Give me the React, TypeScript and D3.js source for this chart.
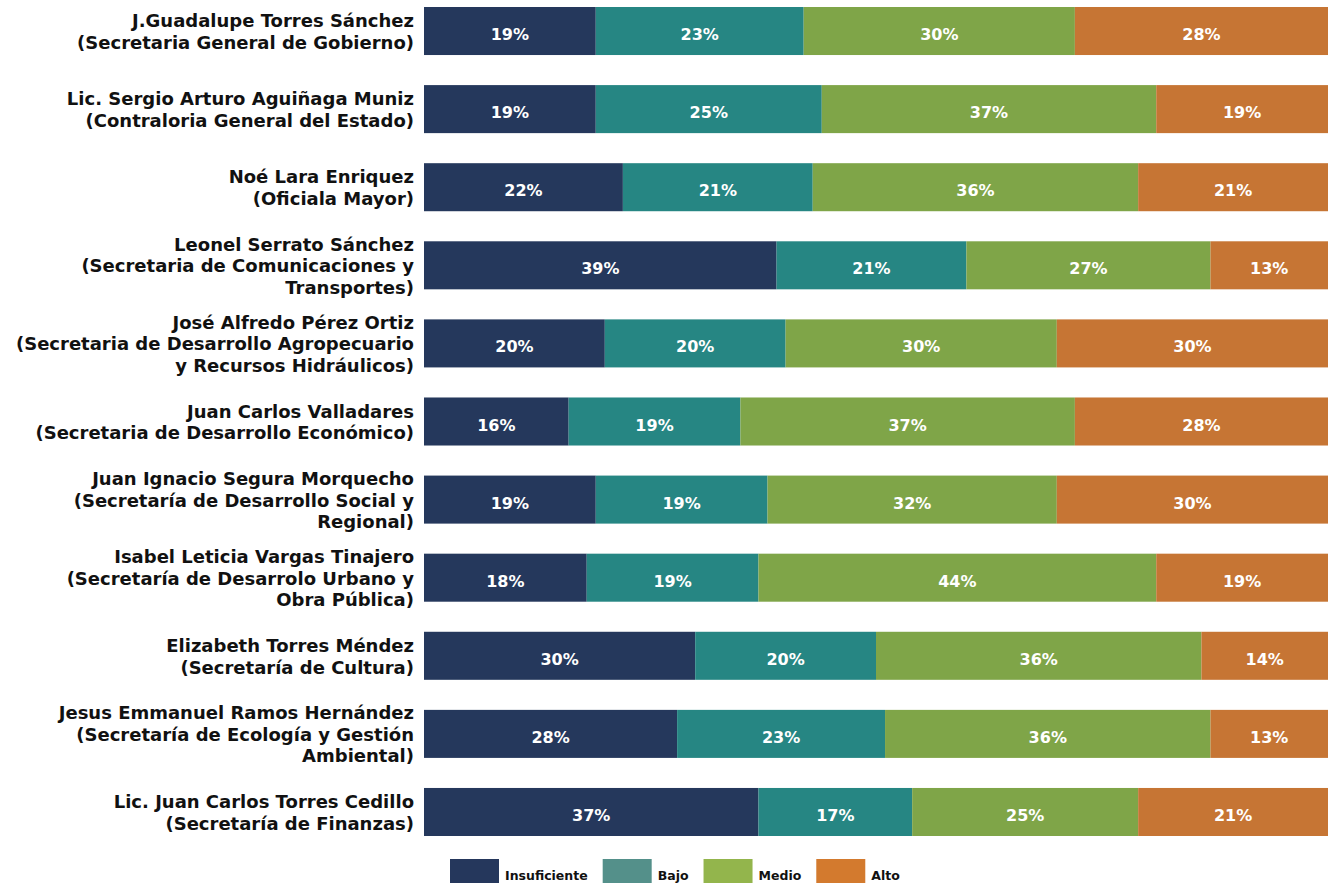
import * as d3 from "d3";
import { useEffect, useRef } from "react";

// Officials (label lines) and their evaluation share per level
const officials: string[][] = [
  ["J.Guadalupe Torres Sánchez", "(Secretaria General de Gobierno)"],
  ["Lic. Sergio Arturo Aguiñaga Muniz", "(Contraloria General del Estado)"],
  ["Noé Lara Enriquez", "(Oficiala Mayor)"],
  ["Leonel Serrato Sánchez", "(Secretaria de Comunicaciones y", "Transportes)"],
  ["José Alfredo Pérez Ortiz", "(Secretaria de Desarrollo Agropecuario", "y Recursos Hidráulicos)"],
  ["Juan Carlos Valladares", "(Secretaria de Desarrollo Económico)"],
  ["Juan Ignacio Segura Morquecho", "(Secretaría de Desarrollo Social y", "Regional)"],
  ["Isabel Leticia Vargas Tinajero", "(Secretaría de Desarrolo Urbano y", "Obra Pública)"],
  ["Elizabeth Torres Méndez", "(Secretaría de Cultura)"],
  ["Jesus Emmanuel Ramos Hernández", "(Secretaría de Ecología y Gestión", "Ambiental)"],
  ["Lic. Juan Carlos Torres Cedillo", "(Secretaría de Finanzas)"],
];

const levels = ["Insuficiente", "Bajo", "Medio", "Alto"];

const insuficiente = [19, 19, 22, 39, 20, 16, 19, 18, 30, 28, 37];
const bajo = [23, 25, 21, 21, 20, 19, 19, 19, 20, 23, 17];
const medio = [30, 37, 36, 27, 30, 37, 32, 44, 36, 36, 25];
const alto = [28, 19, 21, 13, 30, 28, 30, 19, 14, 13, 21];

const barColors = ["#25385c", "#268683", "#7fa548", "#c67534"];
const legendColors = ["#25375c", "#54908a", "#93b54c", "#d37a2e"];

const W = 1328;
const H = 883;
const FONT = "'DejaVu Sans', sans-serif";

const App = () => {
  const ref = useRef<SVGSVGElement>(null);

  useEffect(() => {
    const svg = d3.select(ref.current);
    svg.selectAll("*").remove();

    const rows = officials.map((lines, i) => ({
      key: String(i),
      lines,
      values: [insuficiente[i], bajo[i], medio[i], alto[i]],
    }));

    const x = d3.scaleLinear().domain([0, 100]).range([424, W]);
    const y = d3
      .scaleBand<string>()
      .domain(rows.map((r) => r.key))
      .range([7, 836])
      .paddingInner(0.385)
      .paddingOuter(0);

    // stacked segments
    const stack = d3
      .stack<{ key: string; values: number[] }>()
      .keys(levels)
      .value((d, k) => d.values[levels.indexOf(k)]);
    const series = stack(rows);

    const layer = svg
      .append("g")
      .selectAll("g")
      .data(series)
      .join("g")
      .attr("fill", (_, i) => barColors[i]);

    layer
      .selectAll("rect")
      .data((s) => s)
      .join("rect")
      .attr("x", (d) => x(d[0]))
      .attr("y", (d) => y(d.data.key)!)
      .attr("width", (d) => x(d[1]) - x(d[0]))
      .attr("height", y.bandwidth());

    layer
      .selectAll("text")
      .data((s) => s)
      .join("text")
      .attr("x", (d) => (x(d[0]) + x(d[1])) / 2)
      .attr("y", (d) => y(d.data.key)! + y.bandwidth() / 2 + 9)
      .attr("text-anchor", "middle")
      .attr("fill", "#ffffff")
      .style("font-family", FONT)
      .style("font-weight", "bold")
      .style("font-size", "16px")
      .text((d) => `${d[1] - d[0]}%`);

    // row labels
    const lineH = 21.5;
    const labels = svg
      .append("g")
      .selectAll("text")
      .data(rows)
      .join("text")
      .attr("text-anchor", "end")
      .attr("fill", "#111111")
      .style("font-family", FONT)
      .style("font-weight", "bold")
      .style("font-size", "18px")
      .attr("transform", (r) => {
        const c = y(r.key)! + y.bandwidth() / 2;
        const top = c - ((r.lines.length - 1) * lineH) / 2 + 7;
        return `translate(414,${top})`;
      });
    labels
      .selectAll("tspan")
      .data((r) => r.lines)
      .join("tspan")
      .attr("x", 0)
      .attr("y", (_, i) => i * lineH)
      .text((d) => d);

    // legend
    const legend = svg.append("g").attr("transform", "translate(450,859)");
    let cx = 0;
    levels.forEach((name, i) => {
      const g = legend.append("g").attr("transform", `translate(${cx},0)`);
      g.append("rect").attr("width", 49).attr("height", 24).attr("fill", legendColors[i]);
      const t = g
        .append("text")
        .attr("x", 55)
        .attr("y", 21)
        .attr("fill", "#111111")
        .style("font-family", FONT)
        .style("font-weight", "bold")
        .style("font-size", "12.5px")
        .text(name);
      const tw = (t.node() as SVGTextElement).getComputedTextLength();
      cx += 55 + tw + 15;
    });
  }, []);

  return (
    <div style={{ position: "fixed", left: 0, top: 0 }}>
      <svg ref={ref} width={W} height={H} style={{ display: "block", background: "#ffffff" }} />
    </div>
  );
};

export default App;
